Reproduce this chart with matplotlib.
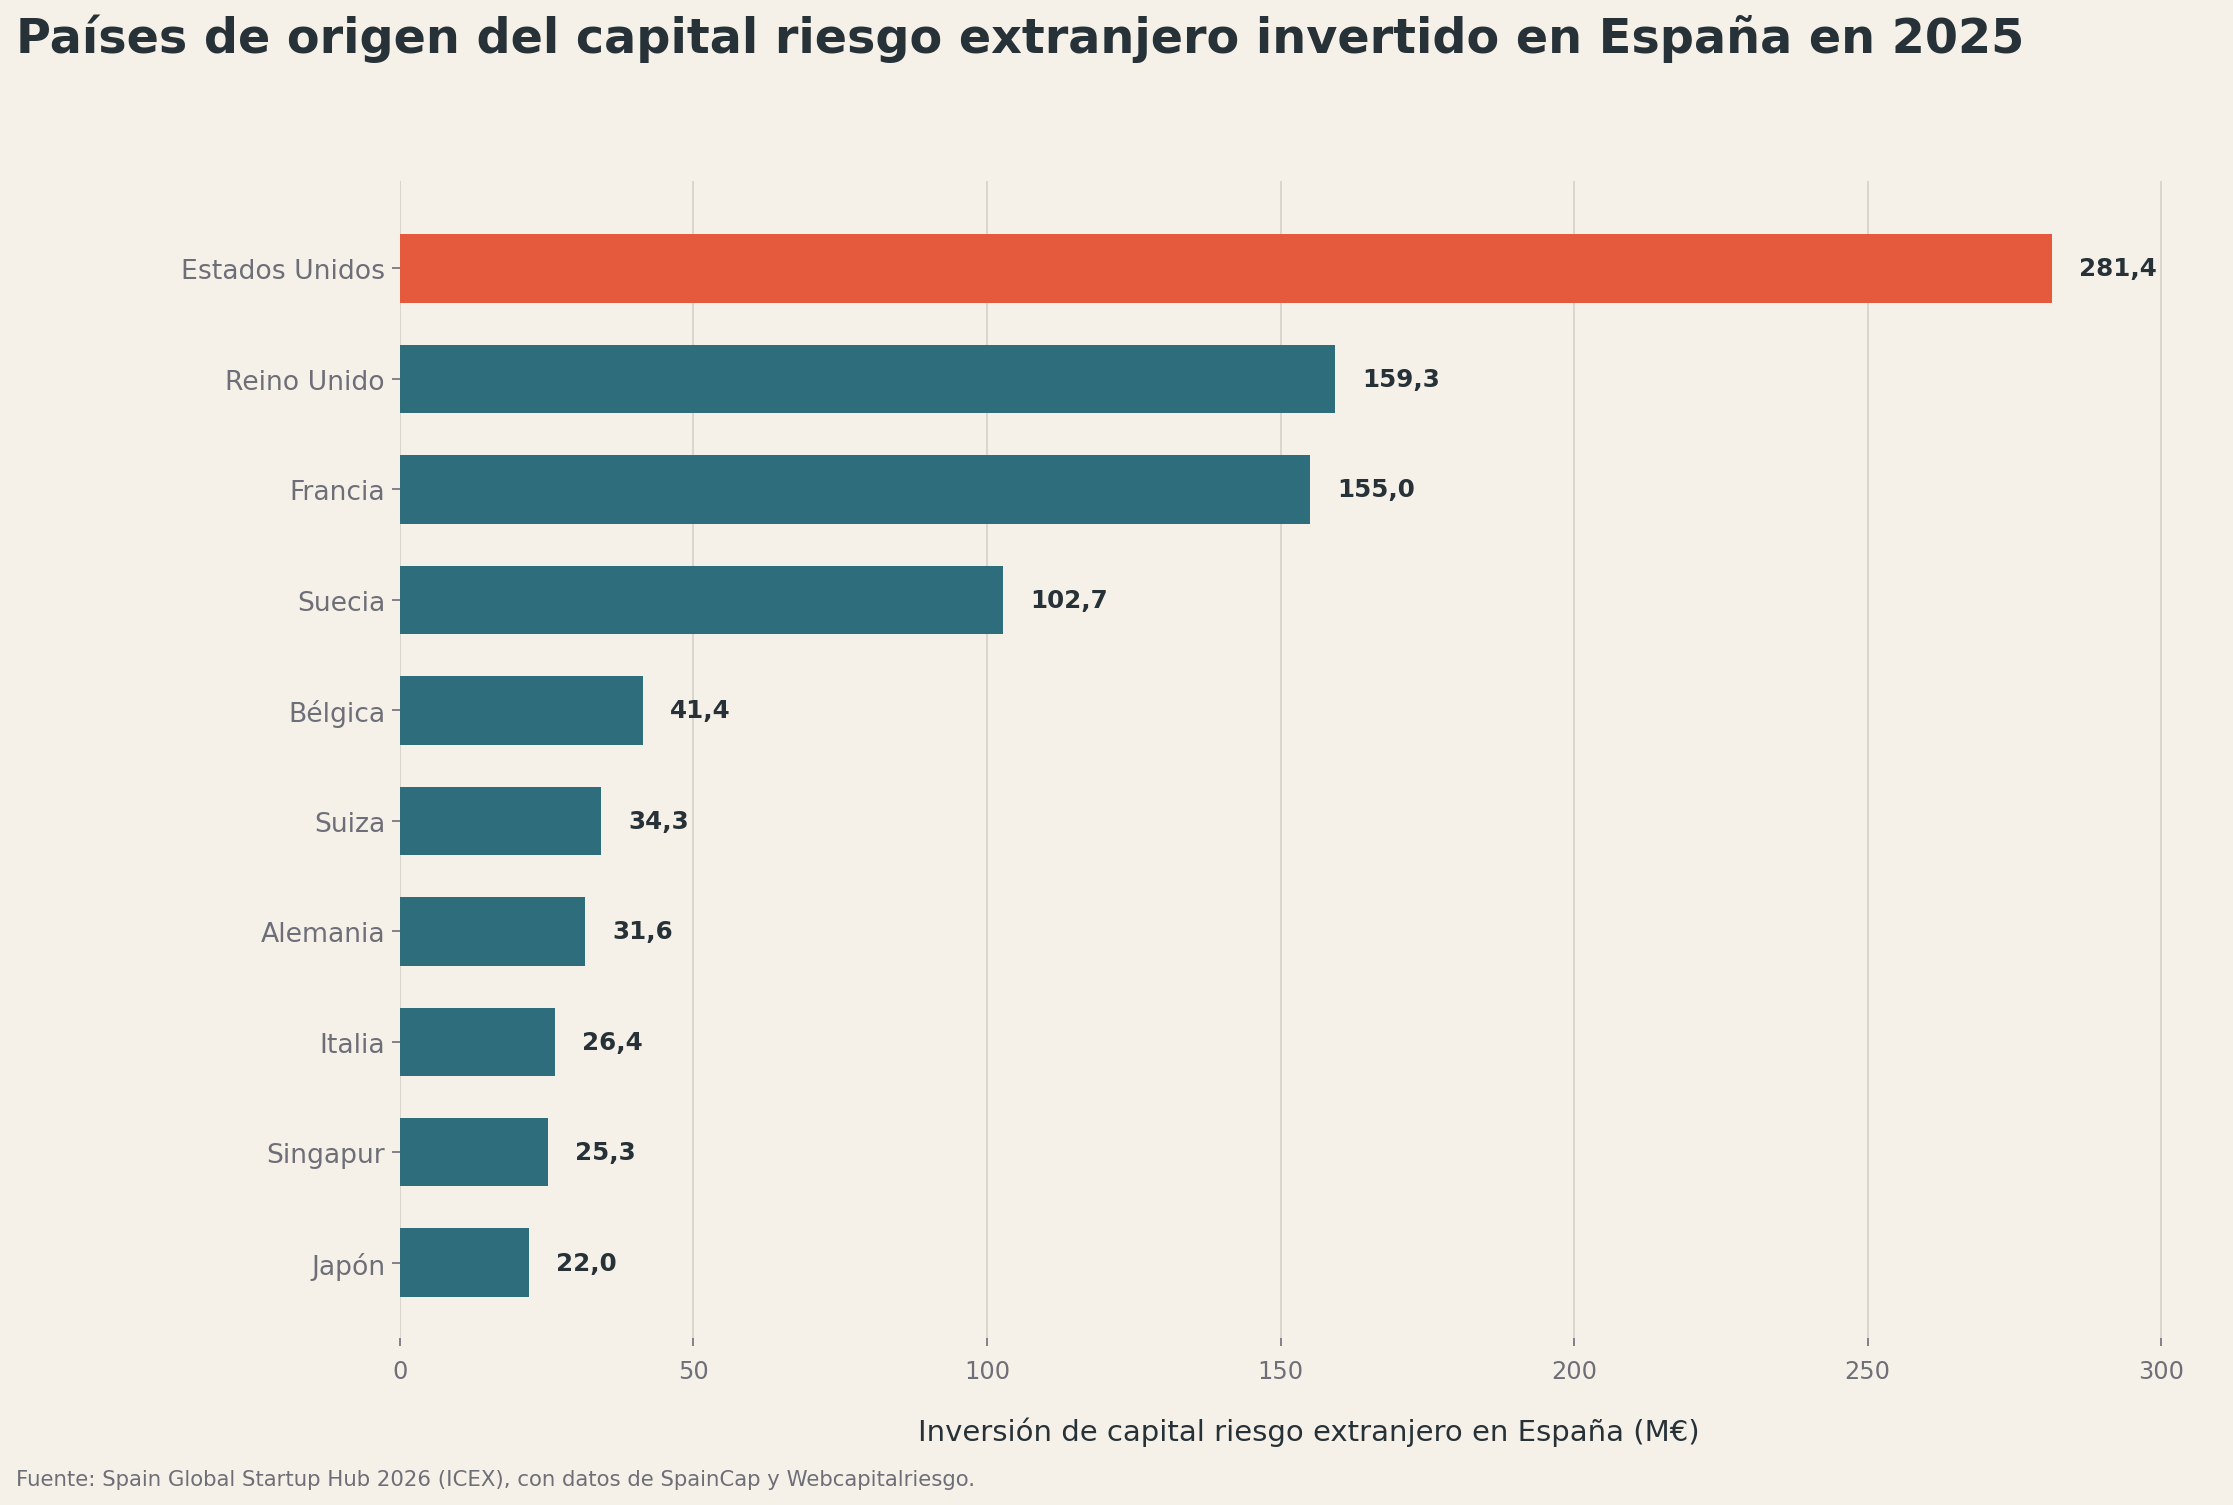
import numpy as np
import matplotlib
matplotlib.use("Agg")
from matplotlib import pyplot as plt

paises = ["Estados Unidos", "Reino Unido", "Francia", "Suecia", "Bélgica",
          "Suiza", "Alemania", "Italia", "Singapur", "Japón"]
inversion = [281.4, 159.3, 155.0, 102.7, 41.4, 34.3, 31.6, 26.4, 25.3, 22.0]
xticks = [0, 50, 100, 150, 200, 250, 300]

BG = "#F6F1E8"
ORANGE = "#E55A3D"
TEAL = "#2E6E7C"
DARK = "#263238"
GREY = "#6E6E78"

plt.rcParams['font.family'] = ['DejaVu Sans']

fig = plt.figure(figsize=(2233 / 150, 1506 / 150), dpi=150, facecolor=BG)
ax = fig.add_axes([0.179, 0.111, 0.814, 0.768], facecolor=BG)

y = np.arange(len(paises))
colors = [ORANGE] + [TEAL] * (len(paises) - 1)
bars = ax.barh(y, inversion, height=0.62, color=colors, zorder=3)

for b, v in zip(bars, inversion):
    ax.annotate(f"{v:.1f}".replace(".", ","),
                xy=(b.get_width(), b.get_y() + b.get_height() / 2),
                xytext=(13, 0), textcoords="offset points",
                va="center", ha="left", fontsize=11.8, fontweight="bold",
                color=DARK, zorder=4)

ax.set_yticks(y)
ax.set_yticklabels(paises)
ax.set_ylim(len(paises) - 1 + 0.68, -0.79)
ax.set_xlim(0, max(inversion) * 1.1)
ax.set_xticks(xticks)

ax.grid(axis="x", color="#D9D5CC", linewidth=0.9, zorder=0)
for s in ax.spines.values():
    s.set_visible(False)
ax.tick_params(axis="y", colors=GREY, labelsize=12.8, length=4, width=0.8, pad=3)
ax.tick_params(axis="x", colors=GREY, labelsize=11.5, length=4, width=0.8, pad=6)
for lbl in ax.get_yticklabels() + ax.get_xticklabels():
    lbl.set_color(GREY)

ax.set_xlabel("Inversión de capital riesgo extranjero en España (M€)",
              fontsize=14, color=DARK, labelpad=16)

fig.text(0.007, 0.974, "Países de origen del capital riesgo extranjero invertido en España en 2025",
         fontsize=22.9, fontweight="bold", color=DARK, ha="left", va="center")
fig.text(0.007, 0.017, "Fuente: Spain Global Startup Hub 2026 (ICEX), con datos de SpainCap y Webcapitalriesgo.",
         fontsize=10.2, color=GREY, ha="left", va="center")

fig.savefig("out.png", dpi=150, facecolor=BG)
